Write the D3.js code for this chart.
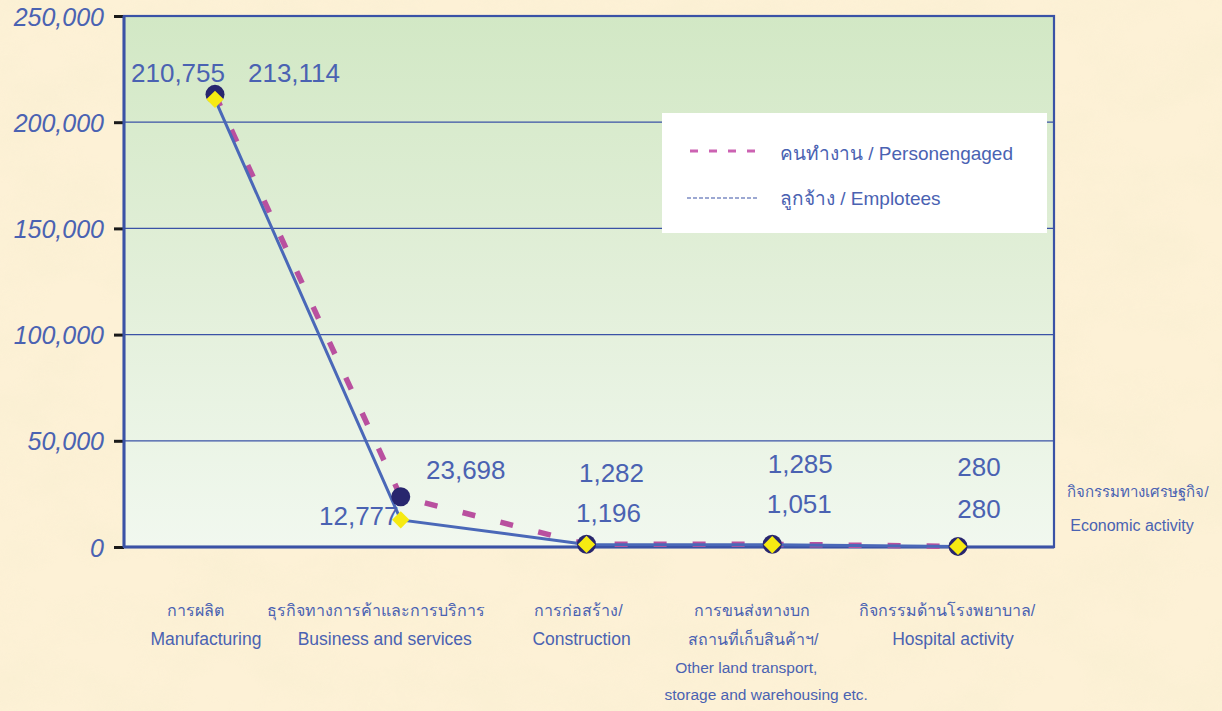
<!DOCTYPE html>
<html><head><meta charset="utf-8">
<script src="https://cdn.jsdelivr.net/npm/d3@7"></script>
<style>
html,body{margin:0;padding:0;background:#fcf0d6;}
svg{display:block;}
text{font-family:"Liberation Sans","Noto Sans",Arial,sans-serif;}
</style></head>
<body><svg id="chart" width="1222" height="711"></svg>
<script>
// ---- data ----
const categories = ["Manufacturing","Business and services","Construction","Other land transport","Hospital activity"];
const categoryLabels = [
  ["การผลิต","Manufacturing"],
  ["ธุรกิจทางการค้าและการบริการ","Business and services"],
  ["การก่อสร้าง/","Construction"],
  ["การขนส่งทางบก","สถานที่เก็บสินค้าฯ/","Other land transport,","storage and warehousing etc."],
  ["กิจกรรมด้านโรงพยาบาล/","Hospital activity"]
];
const personEngaged = [213114, 23698, 1282, 1285, 280];
const employees = [210755, 12777, 1196, 1051, 280];
const yTicks = [0, 50000, 100000, 150000, 200000, 250000];
const seriesNames = ["คนทำงาน / Personengaged", "ลูกจ้าง / Emplotees"];
const axisTitle = ["กิจกรรมทางเศรษฐกิจ/", "Economic activity"];

// ---- layout ----
const plot = {left:124, right:1054, top:16, bottom:547};
const textColor = "#4a62b2";
const frameColor = "#3a52a6";
const isThai = s => /[\u0E00-\u0E7F]/.test(s);
// label offsets (dx, dy) from the point
const peOffsets = [[79,-12],[65,-18],[25,-62],[28,-71],[21,-70]];
const emOffsets = [[-37,-17],[-42,5],[22,-22],[27,-32],[21,-28]];
// category label per-line center offsets & baselines
const catLineDx = [[-20,-9],[-25,-16],[-8,-5],[-20,-19,-26,-6],[-11,-5]];
const catBaselines = [616,645,673,700];

const svg = d3.select("#chart");
const defs = svg.append("defs");

// paper texture
const f = defs.append("filter").attr("id","paper").attr("x",0).attr("y",0).attr("width","100%").attr("height","100%");
f.append("feTurbulence").attr("type","fractalNoise").attr("baseFrequency","0.012 0.018").attr("numOctaves",4).attr("seed",7);
f.append("feColorMatrix").attr("type","matrix")
  .attr("values","0 0 0 0 0.94  0 0 0 0 0.86  0 0 0 0 0.64  1.7 0 0 0 -0.64");
svg.append("rect").attr("width",1222).attr("height",711).attr("fill","#fdf1d6");
svg.append("rect").attr("width",1222).attr("height",711).attr("filter","url(#paper)").attr("opacity",0.7);

// plot gradient
const g = defs.append("linearGradient").attr("id","plotbg").attr("x1",0).attr("y1",0).attr("x2",0).attr("y2",1);
g.append("stop").attr("offset","0%").attr("stop-color","#d2e8c5");
g.append("stop").attr("offset","50%").attr("stop-color","#e2efd9");
g.append("stop").attr("offset","100%").attr("stop-color","#f1f8ef");

const x = d3.scalePoint().domain(categories).range([215, 958]);
const y = d3.scaleLinear().domain([0, 250000]).range([plot.bottom, plot.top]);

svg.append("rect").attr("x",plot.left).attr("y",plot.top)
  .attr("width",plot.right-plot.left).attr("height",plot.bottom-plot.top)
  .attr("fill","url(#plotbg)");

// gridlines
svg.append("g").selectAll("line").data(yTicks.filter(d=>d>0 && d<250000)).join("line")
  .attr("x1",plot.left).attr("x2",plot.right)
  .attr("y1",d=>y(d)).attr("y2",d=>y(d))
  .attr("stroke",frameColor).attr("stroke-width",1.3);

// y axis
const yAxis = d3.axisLeft(y).tickValues(yTicks).tickSize(10).tickPadding(10)
  .tickFormat(d3.format(","));
const ya = svg.append("g").attr("transform",`translate(${plot.left},0)`).call(yAxis);
ya.select(".domain").remove();
ya.selectAll(".tick line").attr("stroke","#1a1a1a").attr("stroke-width",3);
ya.selectAll(".tick text").attr("fill",textColor).attr("font-size",25)
  .attr("font-style","italic").attr("font-family","'Liberation Sans',Arial,sans-serif")
  .attr("dy","0.36em");

// frame
svg.append("rect").attr("x",plot.left).attr("y",plot.top)
  .attr("width",plot.right-plot.left).attr("height",plot.bottom-plot.top)
  .attr("fill","none").attr("stroke",frameColor).attr("stroke-width",2.2);
svg.append("line").attr("x1",plot.left).attr("x2",plot.left).attr("y1",plot.top).attr("y2",plot.bottom)
  .attr("stroke",frameColor).attr("stroke-width",3);
svg.append("line").attr("x1",plot.left).attr("x2",plot.right).attr("y1",plot.bottom).attr("y2",plot.bottom)
  .attr("stroke",frameColor).attr("stroke-width",3);

// legend
const lg = svg.append("g");
lg.append("rect").attr("x",662).attr("y",113).attr("width",385).attr("height",120).attr("fill","#ffffff");
lg.append("line").attr("x1",690).attr("x2",757).attr("y1",151).attr("y2",151)
  .attr("stroke","#cc62b2").attr("stroke-width",3).attr("stroke-dasharray","8,11");
lg.append("line").attr("x1",687).attr("x2",757).attr("y1",198).attr("y2",198)
  .attr("stroke","#3a52a6").attr("stroke-width",1.2).attr("stroke-dasharray","4,2");
lg.selectAll("text").data(seriesNames).join("text")
  .attr("x",780).attr("y",(d,i)=>i===0?160:205)
  .attr("fill",textColor).attr("font-size",19).text(d=>d);

// lines
const line = d3.line().x((d,i)=>x(categories[i])).y(d=>y(d));
svg.append("path").datum(personEngaged).attr("d",line)
  .attr("fill","none").attr("stroke","#b9509f").attr("stroke-width",5.5)
  .attr("stroke-dasharray","13,26");
svg.append("path").datum(employees).attr("d",line)
  .attr("fill","none").attr("stroke","#4a68b8").attr("stroke-width",3);

// markers
svg.append("g").selectAll("circle").data(personEngaged).join("circle")
  .attr("cx",(d,i)=>x(categories[i])).attr("cy",d=>y(d)).attr("r",9.5)
  .attr("fill","#28266e");
svg.append("g").selectAll("path").data(employees).join("path")
  .attr("d",d3.symbol().type(d3.symbolSquare).size(150))
  .attr("transform",(d,i)=>`translate(${x(categories[i])},${y(d)}) rotate(45)`)
  .attr("fill","#f6ea12");

// value labels
const fmt = d3.format(",");
svg.append("g").selectAll("text").data(personEngaged).join("text")
  .attr("x",(d,i)=>x(categories[i])+peOffsets[i][0]).attr("y",(d,i)=>y(d)+peOffsets[i][1])
  .attr("text-anchor","middle").attr("fill",textColor).attr("font-size",26).text(d=>fmt(d));
svg.append("g").selectAll("text").data(employees).join("text")
  .attr("x",(d,i)=>x(categories[i])+emOffsets[i][0]).attr("y",(d,i)=>y(d)+emOffsets[i][1])
  .attr("text-anchor","middle").attr("fill",textColor).attr("font-size",26).text(d=>fmt(d));

// category labels
const cg = svg.append("g");
categoryLabels.forEach((lines,i)=>{
  lines.forEach((t,j)=>{
    cg.append("text").attr("x",x(categories[i])+catLineDx[i][j]).attr("y",catBaselines[j])
      .attr("text-anchor","middle").attr("fill",textColor)
      .attr("font-size", isThai(t) ? 16 : (j>=2 ? 15.5 : 17.5)).text(t);
  });
});

// axis title
svg.append("g").selectAll("text").data(axisTitle).join("text")
  .attr("x",(d,i)=>i===0?1138:1132).attr("y",(d,i)=>i===0?497:531)
  .attr("text-anchor","middle").attr("fill",textColor)
  .attr("font-size",d=>isThai(d)?15:16).text(d=>d);
</script></body></html>
